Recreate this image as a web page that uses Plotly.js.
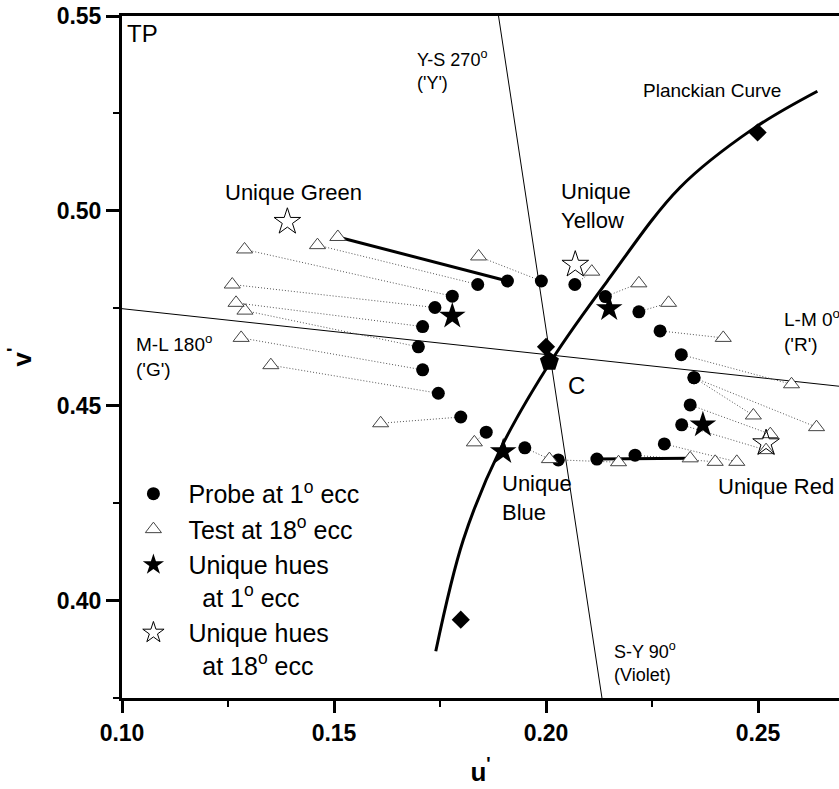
<!DOCTYPE html>
<html>
<head>
<meta charset="utf-8">
<script src="https://cdn.plot.ly/plotly-3.0.1.min.js"></script>
<style>html,body{margin:0;padding:0;background:#fff;}#chart{width:839px;height:789px;}</style>
</head>
<body>
<div id="chart"></div>
<script>
// Probe at 1 deg ecc (filled dots), each paired with a test point at 18 deg ecc
var probeU = [0.1909,0.1989,0.2068,0.2140,0.2219,0.2269,0.2319,0.2349,0.2349,0.2340,0.2320,0.2279,0.2210,0.2120,0.2029,0.1950,0.1859,0.1799,0.1746,0.1709,0.1699,0.1709,0.1738,0.1779,0.1839];
var probeV = [0.4820,0.4820,0.4811,0.4780,0.4741,0.4692,0.4631,0.4572,0.4572,0.4502,0.4451,0.4402,0.4373,0.4363,0.4361,0.4392,0.4432,0.4471,0.4532,0.4592,0.4651,0.4703,0.4752,0.4781,0.4811];
var testU  = [0.1509,0.1841,0.2108,0.2219,0.2289,0.2418,0.2579,0.2638,0.2489,0.2529,0.2519,0.2450,0.2399,0.2340,0.2171,0.2008,0.1831,0.1610,0.1351,0.1281,0.1290,0.1269,0.1260,0.1289,0.1461];
var testV  = [0.4933,0.4883,0.4844,0.4814,0.4764,0.4674,0.4555,0.4445,0.4475,0.4427,0.4386,0.4356,0.4356,0.4365,0.4355,0.4363,0.4406,0.4455,0.4604,0.4674,0.4744,0.4764,0.4811,0.4901,0.4912];
var solidLinks = [0, 13];

// Unique hues
var uniq1U = [0.1779,0.2149,0.2370,0.1899];
var uniq1V = [0.4730,0.4749,0.4451,0.4382];
var uniq18U = [0.1390,0.2069,0.2519];
var uniq18V = [0.4972,0.4862,0.4404];

// Planckian locus points and reference diamonds, centre C
var planckU = [0.1740,0.1805,0.1892,0.2015,0.2146,0.2316,0.2489,0.2640];
var planckV = [0.3870,0.4156,0.4388,0.4620,0.4822,0.5060,0.5211,0.5307];
var diamondU = [0.2000,0.2499,0.1799];
var diamondV = [0.4651,0.5201,0.3951];
var centreU = [0.2008];
var centreV = [0.4613];

// Cardinal axes (L-M / M-L and S-Y / Y-S)
var lmU = [0.1000,0.2691];
var lmV = [0.4749,0.4550];
var syU = [0.1888,0.2132];
var syV = [0.5500,0.3750];

var FONT = 'Arial, "Liberation Sans", sans-serif';

var dotX = [], dotY = [], solX = [], solY = [];
for (var i = 0; i < probeU.length; i++) {
  if (solidLinks.indexOf(i) >= 0) {
    solX.push(probeU[i], testU[i], null); solY.push(probeV[i], testV[i], null);
  } else {
    dotX.push(probeU[i], testU[i], null); dotY.push(probeV[i], testV[i], null);
  }
}

var traces = [
  {x: lmU, y: lmV, mode: 'lines', line: {color: '#000', width: 1}, showlegend: false, hoverinfo: 'skip'},
  {x: syU, y: syV, mode: 'lines', line: {color: '#000', width: 1}, showlegend: false, hoverinfo: 'skip'},
  {x: dotX, y: dotY, mode: 'lines', line: {color: '#555', width: 1, dash: '1px,2px'}, showlegend: false, hoverinfo: 'skip'},
  {x: solX, y: solY, mode: 'lines', line: {color: '#000', width: 3}, showlegend: false, hoverinfo: 'skip'},
  {x: planckU, y: planckV, mode: 'lines', line: {color: '#000', width: 3, shape: 'spline', smoothing: 1}, showlegend: false, hoverinfo: 'skip'},
  {x: probeU, y: probeV, mode: 'markers', name: 'Probe at 1<sup>o</sup> ecc',
   marker: {symbol: 'circle', size: 13, color: '#000'}, legendgroup: 'a'},
  {x: testU, y: testV, mode: 'markers', name: 'Test at 18<sup>o</sup> ecc',
   marker: {symbol: 'triangle-up', size: 14, color: '#fff', line: {color: '#444', width: 1}}, legendgroup: 'b'},
  {x: uniq1U, y: uniq1V, mode: 'markers', name: 'Unique hues<br>\u00a0\u00a0at 1<sup>o</sup> ecc',
   marker: {symbol: 'star', size: 20, color: '#000'}, legendgroup: 'c'},
  {x: uniq18U, y: uniq18V, mode: 'markers', name: 'Unique hues<br>\u00a0\u00a0at 18<sup>o</sup> ecc',
   marker: {symbol: 'star-open', size: 20, color: '#000', line: {width: 1}}, legendgroup: 'd'},
  {x: diamondU, y: diamondV, mode: 'markers', marker: {symbol: 'diamond', size: 14, color: '#000'}, showlegend: false},
  {x: centreU, y: centreV, mode: 'markers', marker: {symbol: 'pentagon', size: 20, color: '#000'}, showlegend: false}
];

function ann(text, x, y, size, xanchor) {
  return {text: text, x: x, y: y, xref: 'x', yref: 'y', showarrow: false,
          xanchor: xanchor || 'left', yanchor: 'middle', align: 'left',
          font: {family: FONT, size: size, color: '#000'}};
}

var layout = {
  width: 839, height: 789,
  margin: {l: 122, r: 0, t: 16, b: 91, pad: 0},
  paper_bgcolor: '#fff', plot_bgcolor: '#fff',
  font: {family: FONT, color: '#000'},
  showlegend: true,
  legend: {x: -0.005, y: 0.333, xanchor: 'left', yanchor: 'top', bgcolor: 'rgba(0,0,0,0)',
           font: {family: FONT, size: 25, color: '#000'}, itemwidth: 60, valign: 'top',
           traceorder: 'grouped', tracegroupgap: 0},
  xaxis: {range: [0.10, 0.2691], showgrid: false, zeroline: false,
          showline: true, linewidth: 3, linecolor: '#000', mirror: true,
          ticks: 'outside', ticklen: 12, tickwidth: 3, tickcolor: '#000',
          tick0: 0.10, dtick: 0.05, tickformat: '.2f',
          minor: {dtick: 0.025, tick0: 0.10, ticks: 'outside', ticklen: 6, tickwidth: 2, tickcolor: '#000'},
          tickfont: {family: FONT, size: 23, weight: 'bold'},
          title: {text: 'u<sup>\'</sup>', font: {family: FONT, size: 26, weight: 'bold'}, standoff: 19}},
  yaxis: {range: [0.375, 0.55], showgrid: false, zeroline: false,
          showline: true, linewidth: 3, linecolor: '#000',
          ticks: 'outside', ticklen: 13, tickwidth: 3, tickcolor: '#000',
          tick0: 0.40, dtick: 0.05, tickformat: '.2f',
          minor: {dtick: 0.025, tick0: 0.375, ticks: 'outside', ticklen: 6, tickwidth: 2, tickcolor: '#000'},
          tickfont: {family: FONT, size: 23, weight: 'bold'},
          title: {text: 'v<sup>\'</sup>', font: {family: FONT, size: 26, weight: 'bold'}, standoff: 18}},
  annotations: [
    ann('TP', 0.10080, 0.54556, 24),
    ann('Y-S 270<sup>o</sup><br>(\'Y\')', 0.1692, 0.5361, 18),
    ann('Planckian Curve', 0.22250, 0.53095, 19),
    ann('Unique Green', 0.14033, 0.50462, 22, 'center'),
    ann('Unique<br>Yellow', 0.20300, 0.5012, 22),
    ann('L-M 0<sup>o</sup><br>(\'R\')', 0.25560, 0.4694, 19),
    ann('M-L 180<sup>o</sup><br>(\'G\')', 0.10280, 0.4630, 19),
    ann('C', 0.20724, 0.45531, 24, 'center'),
    ann('Unique<br>Blue', 0.18920, 0.42626, 22),
    ann('Unique Red', 0.24000, 0.42915, 22),
    ann('S-Y 90<sup>o</sup><br>(Violet)', 0.21547, 0.38415, 18)
  ]
};

Plotly.newPlot('chart', traces, layout, {displayModeBar: false, staticPlot: true});
</script>
</body>
</html>
